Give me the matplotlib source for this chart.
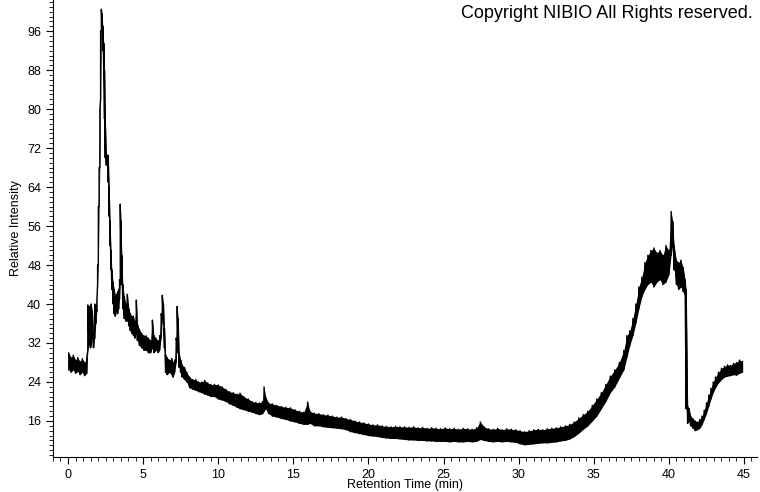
import matplotlib
matplotlib.use("Agg")
import matplotlib.pyplot as plt
from matplotlib.ticker import MultipleLocator
import numpy as np

plt.rcParams['font.family'] = ['Liberation Sans', 'DejaVu Sans']

# retention time (min) with lower / upper edge of the noisy trace
times = [0.05, 0.2, 0.35, 0.5, 0.65, 0.8, 0.95, 1.1, 1.25,
         1.32, 1.4, 1.45, 1.5, 1.55, 1.62, 1.7, 1.78, 1.85, 1.92, 1.97,
         2.02, 2.07, 2.12, 2.17, 2.22, 2.27, 2.32, 2.38, 2.43, 2.48,
         2.55, 2.62, 2.68, 2.74, 2.8, 2.86, 2.92, 3.0, 3.08, 3.15,
         3.22, 3.3, 3.37, 3.43, 3.48, 3.53, 3.58, 3.65, 3.75, 3.85,
         3.95, 4.05, 4.15, 4.25, 4.35, 4.45, 4.55, 4.62, 4.75, 4.9,
         5.05, 5.2, 5.35, 5.5, 5.62, 5.72, 5.85, 6.0, 6.1, 6.2,
         6.28, 6.35, 6.42, 6.5, 6.6, 6.75, 6.9, 7.0, 7.1, 7.2,
         7.27, 7.33, 7.4, 7.5, 7.6, 7.75, 7.9, 8.1, 8.3, 8.5,
         8.7, 8.9, 9.1, 9.3, 9.5, 9.75, 10.0, 10.25, 10.5, 10.75,
         11.0, 11.25, 11.45, 11.7, 12.0, 12.25, 12.5, 12.75, 12.95, 13.05,
         13.15, 13.35, 13.6, 13.9, 14.2, 14.5, 14.8, 15.1, 15.4, 15.7,
         15.95, 16.1, 16.4, 16.7, 17.0, 17.3, 17.6, 17.9, 18.2, 18.5,
         18.8, 19.1, 19.4, 19.7, 20.0, 20.3, 20.6, 20.9, 21.2, 21.5,
         21.8, 22.1, 22.4, 22.7, 23.0, 23.3, 23.6, 23.9, 24.2, 24.5,
         24.8, 25.1, 25.4, 25.7, 26.0, 26.3, 26.6, 26.9, 27.2, 27.45,
         27.7, 28.0, 28.3, 28.6, 28.9, 29.2, 29.5, 29.8, 30.1, 30.4,
         30.7, 31.0, 31.3, 31.6, 31.9, 32.2, 32.5, 32.8, 33.1, 33.4,
         33.7, 34.0, 34.3, 34.6, 34.9, 35.2, 35.5, 35.8, 36.1, 36.4,
         36.7, 37.0, 37.2, 37.4, 37.6, 37.8, 38.0, 38.2, 38.4, 38.6,
         38.8, 39.0, 39.2, 39.4, 39.6, 39.8, 40.0, 40.15, 40.25, 40.35,
         40.5, 40.65, 40.8, 40.95, 41.08, 41.15, 41.25, 41.35, 41.45, 41.6,
         41.75, 41.9, 42.05, 42.2, 42.35, 42.5, 42.65, 42.8, 42.95, 43.1,
         43.3, 43.5, 43.7, 43.9, 44.1, 44.3, 44.5, 44.7, 44.9]

low = [26.5, 26.0, 26.5, 25.8, 26.2, 25.5, 26.0, 25.3, 25.8,
       30.5, 31.5, 33.0, 31.0, 31.5, 33.0, 31.0, 33.0, 36.0, 38.5, 44.0,
       48.0, 60.0, 68.0, 82.0, 96.0, 97.0, 92.0, 88.0, 78.0, 70.0,
       68.5, 69.0, 65.0, 58.0, 52.0, 47.0, 43.0, 40.0, 38.0, 37.5,
       38.5, 38.0, 39.0, 41.0, 44.0, 50.0, 44.0, 39.0, 37.0, 36.5,
       36.5, 35.5, 34.5, 34.0, 33.5, 33.0, 34.0, 32.5, 31.5, 31.0,
       30.5, 30.5, 30.0, 30.0, 31.0, 30.0, 30.5, 30.0, 30.5, 33.0,
       37.0, 36.0, 31.0, 26.0, 25.5, 26.0, 25.5, 25.0, 26.0, 28.0,
       32.0, 30.0, 27.0, 26.0, 25.0, 24.5, 24.0, 22.8, 22.5, 22.3,
       22.0, 21.8, 21.5, 21.3, 21.0, 21.0, 20.5, 20.3, 20.0, 19.5,
       19.2, 18.8, 18.5, 18.3, 18.0, 17.8, 17.5, 17.3, 17.5, 18.0,
       18.5, 17.5, 17.0, 16.8, 16.5, 16.3, 16.0, 15.8, 15.5, 15.3,
       15.3, 15.5, 15.0, 15.0, 14.8, 14.7, 14.6, 14.5, 14.4, 14.2,
       13.8, 13.6, 13.4, 13.2, 13.0, 12.9, 12.8, 12.6, 12.5, 12.4,
       12.4, 12.3, 12.2, 12.1, 12.1, 12.0, 12.0, 11.9, 11.9, 11.8,
       11.8, 11.8, 11.7, 11.8, 11.7, 11.7, 11.8, 11.7, 11.8, 12.2,
       12.0, 11.8, 11.7, 11.8, 11.7, 11.8, 11.7, 11.6, 11.3, 11.1,
       11.2, 11.3, 11.4, 11.5, 11.5, 11.6, 11.7, 11.9, 12.0, 12.3,
       12.8, 13.5, 14.3, 15.0, 16.0, 17.0, 18.5, 20.0, 21.8, 23.0,
       24.8, 26.5, 29.0, 31.5, 33.5, 36.0, 39.0, 41.5, 43.0, 44.0,
       44.5, 43.5, 44.5, 45.0, 44.0, 44.5, 46.0, 50.0, 52.0, 47.0,
       44.0, 43.0, 43.5, 42.5, 42.0, 18.5, 15.5, 16.0, 15.0, 14.5,
       14.0, 14.2, 14.5, 15.2, 16.3, 17.5, 19.0, 20.5, 21.8, 22.8,
       23.8, 24.5, 25.0, 25.2, 25.3, 25.5, 25.4, 25.8, 26.0]

high = [30.0, 29.0, 29.5, 28.5, 29.0, 28.2, 28.8, 28.0, 29.0,
        39.8, 36.0, 39.5, 35.0, 40.0, 38.5, 34.0, 40.0, 39.5, 40.5, 48.0,
        60.0, 68.0, 80.0, 96.0, 100.5, 99.5, 97.0, 93.5, 88.0, 78.0,
        71.0, 70.5, 70.5, 64.0, 57.0, 51.0, 47.0, 44.5, 43.0, 41.5,
        42.0, 42.5, 43.0, 45.0, 60.5, 57.0, 50.0, 44.0, 41.5, 40.0,
        42.0, 39.0, 38.0, 37.5, 37.5, 36.5, 40.8, 36.0, 34.8, 34.0,
        33.5, 33.5, 33.0, 32.5, 36.7, 33.5, 33.0, 32.5, 33.5, 38.0,
        41.8, 40.0, 35.0, 29.5, 29.0, 28.5, 28.8, 28.0, 28.5, 33.0,
        39.5, 37.0, 30.0, 28.5, 27.5, 27.0, 26.0, 25.0, 24.5, 24.5,
        24.0, 24.0, 24.3, 23.8, 23.5, 23.5, 23.4, 23.0, 22.5, 22.0,
        21.8, 21.5, 21.7, 21.0, 20.5, 20.0, 19.8, 19.7, 20.0, 23.0,
        21.0, 19.7, 19.5, 19.2, 19.0, 18.8, 18.7, 18.3, 18.0, 17.8,
        19.9, 18.0, 17.6, 17.5, 17.3, 17.2, 17.0, 16.8, 16.8, 16.5,
        16.3, 16.0, 15.8, 15.6, 15.4, 15.2, 15.2, 15.0, 14.9, 14.8,
        14.9, 14.8, 14.8, 14.7, 14.8, 14.6, 14.7, 14.5, 14.6, 14.5,
        14.4, 14.6, 14.4, 14.5, 14.3, 14.5, 14.4, 14.3, 14.6, 15.8,
        14.8, 14.4, 14.3, 14.5, 14.2, 14.4, 14.3, 14.2, 14.0, 13.8,
        14.0, 14.2, 14.3, 14.2, 14.4, 14.5, 14.6, 14.8, 15.0, 15.3,
        15.8, 16.6, 17.3, 18.0, 19.2, 20.5, 21.8, 23.5, 25.2, 26.5,
        28.0, 30.5, 33.5, 34.5, 37.0, 40.0, 43.5, 45.5, 48.5, 50.0,
        51.0, 51.5, 50.5, 51.0, 50.0, 52.0, 51.0, 59.0, 57.0, 52.0,
        49.0, 48.5, 49.0, 47.5, 45.0, 43.0, 19.0, 18.5, 17.0, 16.5,
        16.0, 15.8, 16.3, 17.0, 18.2, 19.7, 21.3, 22.7, 24.0, 25.0,
        26.0, 26.8, 27.2, 27.5, 27.4, 27.8, 28.0, 28.5, 28.2]

x_ticks = [0, 5, 10, 15, 20, 25, 30, 35, 40, 45]
y_ticks = [16, 24, 32, 40, 48, 56, 64, 72, 80, 88, 96]

t = np.array(times)
lo = np.array(low)
hi = np.array(high)

fig = plt.figure(figsize=(7.6, 4.92), dpi=100)
ax = fig.add_axes([0.0697, 0.0711, 0.927, 0.929])

# dense band for the noise, then a zigzag through the edges
ax.fill_between(t, lo, hi, color='black', lw=0)
ax.plot(np.repeat(t, 2), np.column_stack([lo, hi]).ravel(), color='black', lw=1.0)

ax.set_xlim(-1.0, 45.9)
ax.set_ylim(8.6, 102.4)
ax.spines['top'].set_visible(False)
ax.spines['right'].set_visible(False)
ax.set_xticks(x_ticks)
ax.set_yticks(y_ticks)
ax.xaxis.set_minor_locator(MultipleLocator(0.5))
ax.yaxis.set_minor_locator(MultipleLocator(1))
ax.tick_params(which='major', direction='out', length=5, labelsize=9)
ax.tick_params(which='minor', direction='out', length=3)
ax.set_xlabel("Retention Time (min)", fontsize=9, labelpad=-1)
ax.set_ylabel("Relative Intensity", fontsize=9, labelpad=4)

fig.text(0.991, 0.972, "Copyright NIBIO All Rights reserved.", ha='right', va='center', fontsize=13)

fig.savefig("out.png", dpi=100)
